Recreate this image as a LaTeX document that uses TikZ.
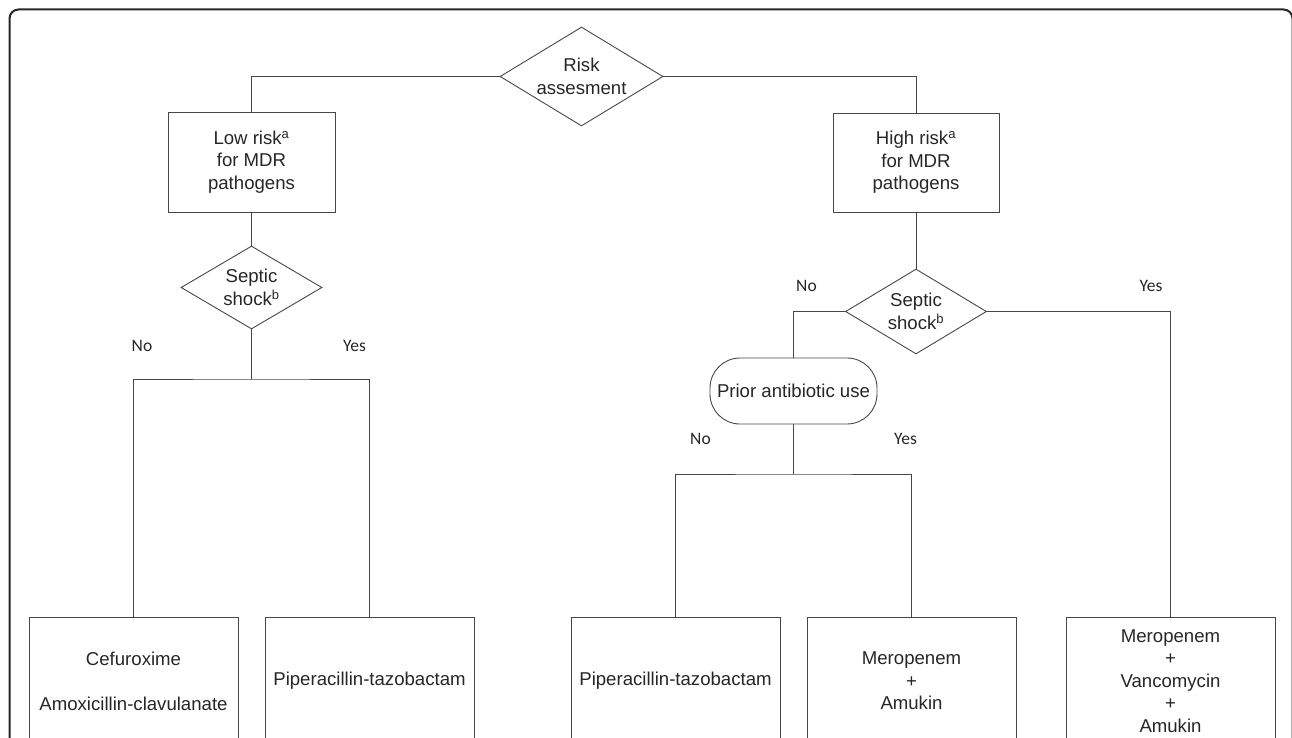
\documentclass[tikz,border=0pt]{standalone}
\usepackage{fontspec}
\setmainfont{Liberation Sans}
\newfontfamily\answerfont{Carlito}
\newcommand\boxsize{\fontsize{18.6}{22.5}\selectfont}
\usetikzlibrary{shapes.geometric}

\begin{document}
\begin{tikzpicture}
[x=1pt,y=-1pt,
  lineDecorate/.style={-,draw=black!72,line width=0.9pt},%
  boxDecorate/.style={shape=rectangle,draw=black!72,line width=0.9pt,inner sep=0pt,align=center,text=black!85,font=\boxsize},%
  diamondDecorate/.style={shape=diamond,draw=black!72,line width=0.9pt,inner sep=0pt,align=center,text=black!85,font=\boxsize},%
  stadiumDecorate/.style={boxDecorate,rounded corners=30pt,minimum width=167pt,minimum height=66pt},%
  answerDecorate/.style={anchor=base,inner sep=0pt,text=black!85,font=\answerfont\fontsize{17.5}{20}\selectfont}]
\useasboundingbox (0,0) rectangle (1292,738);
%% frame
\draw[black!85,line width=2pt,rounded corners=9pt] (9.5,9.5) rectangle (1292.5,790);
%% decisions and risk groups
\node (risk) at (581.5,76.5) [diamondDecorate,aspect=1.65,minimum width=163pt,minimum height=99pt] {Risk\\assesment};
\node (low) at (251.5,162) [boxDecorate,minimum width=167pt,minimum height=100pt] {Low risk\textsuperscript{a}\\for MDR\\pathogens};
\node (high) at (916,162.5) [boxDecorate,minimum width=166pt,minimum height=99pt] {High risk\textsuperscript{a}\\for MDR\\pathogens};
\node (lowshock) at (251.5,287.5) [diamondDecorate,aspect=1.7,minimum width=141pt,minimum height=83pt] {Septic\\shock\textsuperscript{b}};
\node (highshock) at (916,311.5) [diamondDecorate,aspect=1.7,minimum width=141pt,minimum height=85pt] {Septic\\shock\textsuperscript{b}};
\node (prior) at (793.5,391) [stadiumDecorate] {Prior antibiotic use};
%% treatments
\foreach \nodename/\x/\txt in {
  cefu/133.5/{Cefuroxime\\[22.5pt]Amoxicillin-clavulanate},
  pipeLow/369.5/{Piperacillin-tazobactam},
  pipeHigh/675.5/{Piperacillin-tazobactam},
  meroAmu/911.5/{Meropenem\\+\\Amukin},
  meroVan/1170.5/{Meropenem\\+\\Vancomycin\\+\\Amukin}}
{
  \node (\nodename) at (\x,681) [boxDecorate,minimum width=209pt,minimum height=128pt] {\txt};
}
%% answers
\foreach \nodename/\x/\y/\txt in {
  lowNo/142/351/No, lowYes/354.5/351/Yes, highNo/806.5/291/No,
  highYes/1151/291/Yes, priorNo/700.5/444/No, priorYes/905.5/444/Yes}
{
  \node (\nodename) at (\x,\y) [answerDecorate] {\txt};
}
%% connectors
\coordinate (lowSplit) at (251.5,379);
\coordinate (priorSplit) at (793.5,474);
\draw[lineDecorate] (risk.west) -| (low.north);
\draw[lineDecorate] (risk.east) -| (high.north);
\draw[lineDecorate] (highshock.west) -| (prior.north);
\draw[lineDecorate] (highshock.east) -| (meroVan.north);
\draw[lineDecorate] (cefu.north) |- (lowSplit) -| (pipeLow.north);
\draw[lineDecorate] (pipeHigh.north) |- (priorSplit) -| (meroAmu.north);
\path
\foreach \startnode/\endnode in {
  low/lowshock, high/highshock, lowshock/lowSplit, prior/priorSplit}
{
  (\startnode) edge[lineDecorate] (\endnode)
};
\end{tikzpicture}
\end{document}
